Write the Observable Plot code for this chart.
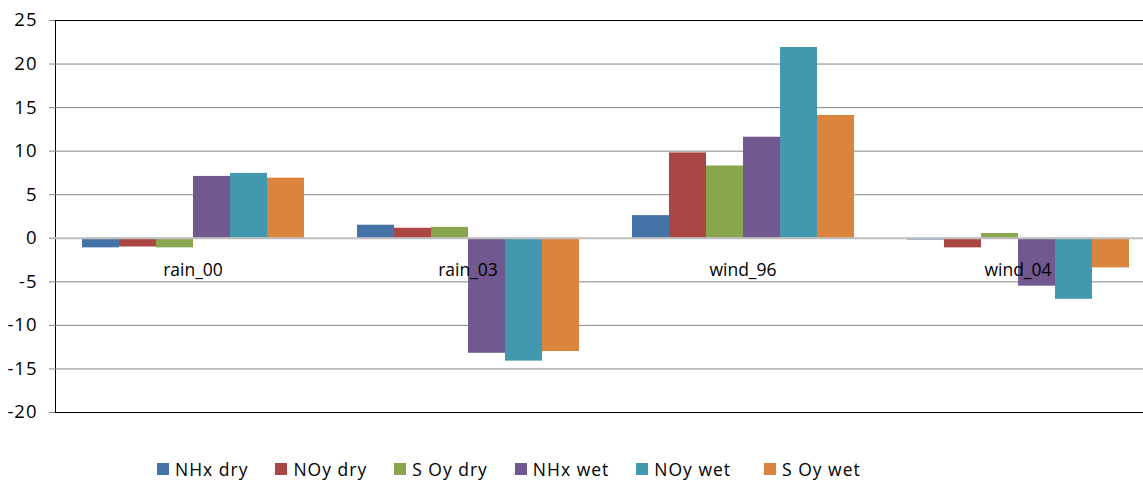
<!DOCTYPE html>
<html>
<head>
<meta charset="utf-8">
<script src="https://cdn.jsdelivr.net/npm/d3@7"></script>
<script src="https://cdn.jsdelivr.net/npm/@observablehq/plot@0.6"></script>
<style>
  body { margin: 0; background: #fff; font-family: "Open Sans", sans-serif; }
  #chart { width: 1143px; overflow: hidden; }
  #chart svg { display: block; max-width: none; }
  #legend { display: flex; height: 58px; align-items: center; padding-left: 157px; font-size: 17.5px; letter-spacing: 1px; color: #000; }
  .item { display: flex; align-items: center; margin-right: 27px; }
  .item:nth-child(5) { margin-right: 33px; }
  .sw { width: 12px; height: 12px; margin-right: 6px; }
</style>
</head>
<body>
<div id="chart"></div>
<div id="legend"></div>
<script>
const categories = ["rain_00", "rain_03", "wind_96", "wind_04"];
const seriesNames = ["NHx dry", "NOy dry", "S Oy dry", "NHx wet", "NOy wet", "S Oy wet"];
const colors = ["#4572A7", "#AA4643", "#89A54E", "#71588F", "#4198AF", "#DB843D"];
const nhxDry = [-1.1, 1.5, 2.6, -0.2];
const noyDry = [-1.0, 1.15, 9.8, -1.1];
const soyDry = [-1.1, 1.25, 8.3, 0.55];
const nhxWet = [7.1, -13.2, 11.6, -5.5];
const noyWet = [7.45, -14.1, 21.9, -7.0];
const soyWet = [6.9, -13.0, 14.1, -3.4];
const yTicks = [-20, -15, -10, -5, 0, 5, 10, 15, 20, 25];

const seriesValues = [nhxDry, noyDry, soyDry, nhxWet, noyWet, soyWet];
const data = [];
categories.forEach((c, i) => {
  seriesNames.forEach((s, j) => data.push({cat: c, series: s, value: seriesValues[j][i]}));
});

const chart = Plot.plot({
  width: 1156,
  height: 440,
  marginLeft: 54,
  marginRight: 0,
  marginTop: 20,
  marginBottom: 28,
  style: {fontFamily: "Open Sans, sans-serif", fontSize: "17.5px", color: "#000", overflow: "visible", maxWidth: "none"},
  fx: {domain: categories, padding: 0, axis: null, label: null},
  x: {domain: seriesNames, paddingInner: 0, paddingOuter: 0.7, axis: null, label: null},
  y: {domain: [-20, 25], label: null, axis: "left", line: true, ticks: yTicks, tickSize: 6, tickPadding: 12, tickFormat: d => String(d)},
  color: {domain: seriesNames, range: colors},
  marks: [
    Plot.gridY(yTicks.filter(d => d !== 0 && d !== 25 && d !== -20), {stroke: "#868686", strokeOpacity: 1}),
    Plot.barY(data, {fx: "cat", x: "series", y: "value", fill: "series"}),
    Plot.ruleY([0], {stroke: "#BFBFBF", strokeWidth: 2}),
    Plot.ruleY([25, -20], {stroke: "#000", strokeWidth: 1.2}),
    Plot.text(categories, {fx: d => d, y: () => 0, dy: 32, text: d => d, fontSize: 17.5, fill: "#000", style: "letter-spacing:0.9px"})
  ]
});
document.getElementById("chart").appendChild(chart);

// style the y axis: gray line and ticks, larger black labels
d3.select(chart).selectAll("[aria-label*='y-axis'] path, [aria-label*='y-axis'] line")
  .attr("stroke", "#868686").style("stroke", "#868686");
d3.select(chart).selectAll("[aria-label*='y-axis'] text")
  .style("font-size", "18.5px").style("letter-spacing", "1px").attr("fill", "#000");

const legend = document.getElementById("legend");
seriesNames.forEach((s, i) => {
  const it = document.createElement("div");
  it.className = "item";
  const sw = document.createElement("div");
  sw.className = "sw";
  sw.style.background = colors[i];
  it.appendChild(sw);
  const t = document.createElement("span");
  t.textContent = s;
  it.appendChild(t);
  legend.appendChild(it);
});
</script>
</body>
</html>
